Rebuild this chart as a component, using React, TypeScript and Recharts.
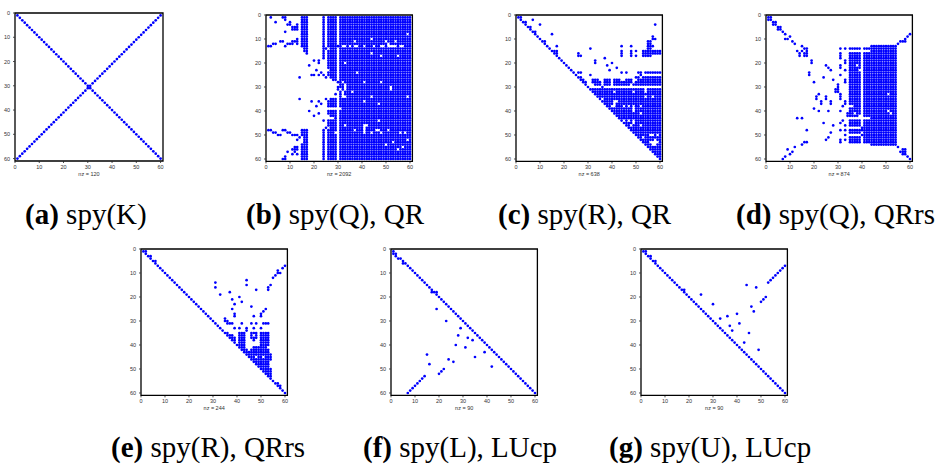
import { ScatterChart, Scatter, XAxis, YAxis, ReferenceArea } from "recharts"

// every row lists the occupied columns of that matrix row (row 1 first)
const spyK = [
  "1,60", "2,59", "3,58", "4,57", "5,56", "6,55", "7,54", "8,53", "9,52", "10,51",
  "11,50", "12,49", "13,48", "14,47", "15,46", "16,45", "17,44", "18,43", "19,42", "20,41",
  "21,40", "22,39", "23,38", "24,37", "25,36", "26,35", "27,34", "28,33", "29,32", "30,31",
  "30,31", "29,32", "28,33", "27,34", "26,35", "25,36", "24,37", "23,38", "22,39", "21,40",
  "20,41", "19,42", "18,43", "17,44", "16,45", "15,46", "14,47", "13,48", "12,49", "11,50",
  "10,51", "9,52", "8,53", "7,54", "6,55", "5,56", "4,57", "3,58", "2,59", "1,60",
]

const spyQR_Q = [
  "2,7,8,15-17,24,26-29,31-60",
  "8,15-17,24,26-29,31-60",
  "4,10,15-17,24,26-29,31-60",
  "9,10,13,15-17,24,26-29,31-60",
  "11-13,15-17,24,26-29,31-60",
  "11-13,15-17,24,26-29,31-60",
  "8,15-17,24,26-29,31-60",
  "15-17,24,26-29,31-60",
  "15-17,24,26-29,31-60",
  "13,15-17,24,26-29,31-60",
  "6,7,11-13,15-17,24,26-29,31-60",
  "3,4,9-11,13,15-17,24,26-29,31-60",
  "1,2,8,15-17,24,26-31,33-60",
  "16,17,24,25,27-29,31-60",
  "16,17,24,26-29,31-60",
  "17,24,26-29,31-60",
  "24,26-29,31-60",
  "24,26-29,31-60",
  "20,22,26-29,31-60",
  "22,26-29,31-60",
  "18,26-29,31-60",
  "26-29,31-60",
  "21,27-29,31-60",
  "23,26-29,31-60",
  "19,20,22,24,26-29,31-60",
  "14,25,27-29,31-60",
  "28,29,31-60",
  "30,31,33-60",
  "31,32,34-60",
  "30,31,32,34-60",
  "30,32,34-60",
  "31,33-60",
  "29,31,33-60",
  "31,34-60",
  "14,25,27-29,31-60",
  "19,22,26-29,31-60",
  "23,26-29,31-60",
  "21,26-29,31-60",
  "32-60",
  "18,26-29,31-60",
  "22,26-29,31-60",
  "20,27-29,31-60",
  "29,31-60",
  "24,26-29,31-60",
  "26-29,31-60",
  "26-29,31-60",
  "25,27-29,31-60",
  "1,2,7,8,15-17,24,26-29,31-60",
  "3,4,9,10,15-17,24,26-28,31-60",
  "5,6,11-13,15-17,24,26-29,31-60",
  "14,16,17,24,26-29,31-60",
  "13,16,17,24,26-29,31-60",
  "16,17,24,26-29,31-60",
  "15-17,24,26-29,31-60",
  "12,13,15-17,24,26-29,31-60",
  "11-13,15-17,24,26-29,31-60",
  "9,12,15-17,24,26-29,31-60",
  "11,13,15-17,24,26-29,31-60",
  "8,15-17,24,26-29,31-60",
  "7,8,15-17,24,26-29,31-60",
]
const spyQR_QHoles = [
  [59, 8], [44, 10], [37, 11], [50, 11], [54, 11], [51, 12], [33, 13], [35, 13], [37, 13], [38, 13],
  [41, 13], [45, 13], [48, 13], [49, 13], [51, 13], [52, 13], [53, 13], [54, 13], [56, 13], [57, 13],
  [44, 16], [48, 17], [55, 17], [33, 20], [38, 24], [41, 28], [48, 28], [52, 30], [52, 31], [36, 32],
  [44, 34], [59, 34], [41, 36], [47, 37], [47, 44], [33, 46], [41, 46], [42, 46], [41, 47], [37, 48],
  [41, 48], [46, 48], [47, 48], [51, 48], [41, 49], [44, 49], [48, 49], [56, 49], [58, 49], [59, 52],
  [53, 53], [50, 54], [57, 55], [55, 56],
]

const spyQR_R = [
  "1,2", "2,7", "3,4", "4,10,58", "5,6", "6", "7,8", "8,15", "9,57", "10,57,58",
  "11,12,55,56", "12,55,56", "13,17,44,48,55-57", "14,31,55,56",
  "15-17,44,48,50,53-60", "16,17,26,44,48,53-60", "17,26,27,44,48,50,53-56", "18,37", "19,33", "20,33,40",
  "21,38", "22,42", "23,39", "24,26,27,44,46,51,52,54-60", "25,31,52",
  "26,27,50,51,53-60", "27,28,32-34,37-39,41-43,46-48,51-60", "28,29,32-35,37-39,41-48,50-60",
  "29,33-35,37-39,41-47,49-60", "30,36",
  "31-60", "32-60", "33-60", "34-60", "35-60", "36-60", "37-60", "38-60", "39-60", "40-60",
  "41-60", "42-60", "43-60", "44-60", "45-60", "46-60", "47-60", "48-60", "49-60", "50-60",
  "51-60", "52-60", "53-60", "54-60", "55-60", "56-60", "57-60", "58-60", "59,60", "60",
]
const spyQR_RHoles = [
  [54, 31], [41, 32], [49, 32], [54, 32], [54, 34], [57, 34], [36, 35], [41, 36], [42, 36], [41, 37],
  [40, 38], [41, 38], [45, 38], [47, 38], [49, 38], [52, 38], [49, 39], [49, 40], [52, 41], [45, 44],
  [47, 44], [49, 44], [49, 45], [48, 46], [52, 46], [56, 50], [57, 50], [59, 50], [53, 51], [58, 52],
  [56, 53], [57, 53], [58, 53], [59, 53], [57, 54], [58, 54],
]

const spyQRrs_Q = [
  "1,2", "1,2", "3,4", "3,4", "5,6", "5,6", "7", "8,60", "10,59", "8,9,58",
  "11,56-58", "12,55", "15,44-54", "16,17,31,33,35-39,41-54",
  "13,15,17,44-54", "14,16,17,31,35-39,41-54", "14,16,17,31,35-39,41-54", "31,35-39,41-54",
  "19,33,35-39,41-54", "19,33,35-39,41-54",
  "25,31,35-37,39,41-54", "26,31,35-39,41-54", "27,33,35-38,41-54", "18,35-39,41-54", "18,31,35-39,41-54",
  "24,35-39,41-54", "28,33,35-39,41-54", "20,33,35-39,41-54", "30,35-39,41-54", "30,35-39,41-54",
  "29,30,35-39,41-54", "29,30,35-39,41-54", "22,31,35-39,41-50,52-54", "21,25,31,35-39,41-54",
  "21,25,31,35-39,41-54", "23,27,33,35-39,41-54", "23,27,33,35-39,41-54", "32,36-39,41-54",
  "20,35-39,41-54", "22,26,31,35-39,41-50,52-54",
  "34-36,38,39,41-51,53,54", "34-38,41-54", "13,15,44-54", "32,35-39,41-54", "24,31,35-39,41-54",
  "28,33,35-39,41-54", "40,41-54", "17,31,33,35-39,40-54", "27,35-39,41-54", "33,40-54",
  "26,35-39,41-54", "25,31,33,35-39,41-54", "16,17,31,35-39,41-54", "15,44-54", "12,55",
  "9,57,58", "11,56-58", "10,57,58", "8,59", "7,60",
]
const spyQRrs_QHoles = [[38, 21], [39, 23], [36, 38], [37, 41], [39, 42]]

const spyQRrs_R = [
  "1,2", "2", "3,4", "4", "5,6", "6", "7,60", "8,59", "9,57", "10,57,58",
  "11,56", "12,55", "13,44", "14,31", "15,44,54", "16,31,53", "17,48,53", "18,37", "19,33", "20,41",
  "21,38", "22,42", "23,39", "24,46", "25,38,52", "26,51", "27,39,50", "28,39,47,50", "29,35", "30,35,36",
  "31,36-38,42,46,48,51-53", "32", "33,39,41,44,47,50", "34,44", "35,36,41-43,46-48,50-53", "36-38,41-43,46,48,50-53",
  "37-39,41-43,46-48,50-53", "38,39,41-43,47,50-53", "39,41-43,50-53", "40-43,50-53",
  "41-43,47-52", "42-44,46-53", "43-53", "44-54", "45-47,49,50,52-54", "46-54", "47-53", "48-53", "49-53", "50-54",
  "51-54", "52-54", "53,54", "54", "55", "56,57", "57,58", "58", "59", "60",
]

const spyLUcp_L = [
  "1", "1,2", "2", "3,4", "5", "5,6", "7", "8", "9", "10",
  "11", "12", "13", "14", "15", "16", "17", "17-19", "19", "20",
  "21", "22", "23", "24", "19,25", "26", "27", "28", "29", "23,30",
  "31", "32", "29,33", "34", "35", "28,36", "32,37", "34,38", "39", "27,40",
  "31,41", "42", "39,43", "15,44", "35,45", "24,46", "26,47", "16,48", "42,49", "22,50",
  "21,51", "20,52", "14,53", "13,54", "12,55", "11,56", "10,57", "9,58", "8,59", "7,60",
]

const spyLUcp_U = [
  "1,2", "2", "3,4", "4", "5,6", "6", "7,60", "8,59", "9,58", "10,57",
  "11,56", "12,55", "13,54", "14,53", "15,44", "16,48", "17,18", "18", "19,25", "20,52",
  "21,51", "22,50", "23,30", "24,46", "25", "26,47", "27,40", "28,36", "29,33", "30",
  "31,41", "32,37", "33", "34,38", "35,45", "36", "37", "38", "39,43", "40",
  "41", "42,49", "43", "44", "45", "46", "47", "48", "49", "50",
  "51", "52", "53", "54", "55", "56", "57", "58", "59", "60",
]

const axisTicks = [0, 10, 20, 30, 40, 50, 60]
const blue = "#0000ff"
const smallText = { fontSize: 5.5, fill: "#333", fontFamily: "Liberation Sans" }

const toPoints = (rows: string[], holes: number[][] = []) =>
  rows.flatMap((row, r) =>
    row.split(",").flatMap((part) => {
      const [a, b] = part.split("-").map(Number)
      const cols: number[] = []
      for (let c = a; c <= (b ?? a); c++) cols.push(c)
      return cols
        .filter((c) => !holes.some(([hc, hr]) => hc === c && hr === r + 1))
        .map((c) => ({ x: c, y: r + 1 }))
    })
  )

const Dot = (props: any) => <circle cx={props.cx} cy={props.cy} r={1.35} fill={blue} />

// matlab style ticks point into the box
const BottomTick = ({ x, y, payload }: any) => (
  <g>
    <line x1={x} x2={x} y1={y} y2={y - 1.5} stroke="#000" strokeWidth={0.7} />
    <text x={x} y={y + 6} textAnchor="middle" {...smallText}>{payload.value}</text>
  </g>
)
const LeftTick = ({ x, y, payload }: any) => (
  <g>
    <line x1={x} x2={x + 1.5} y1={y} y2={y} stroke="#000" strokeWidth={0.7} />
    <text x={x - 3} y={y + 2} textAnchor="end" {...smallText}>{payload.value}</text>
  </g>
)
const TopTick = ({ x, y }: any) => <line x1={x} x2={x} y1={y} y2={y + 1.5} stroke="#000" strokeWidth={0.7} />
const RightTick = ({ x, y }: any) => <line x1={x} x2={x - 1.5} y1={y} y2={y} stroke="#000" strokeWidth={0.7} />

function Spy({ rows, holes, nz, x, y, size }: { rows: string[]; holes?: number[][]; nz: number; x: number; y: number; size: number }) {
  const left = 20
  const top = 5
  return (
    <div style={{ position: "absolute", left: x - left, top: y - top }}>
      <ScatterChart width={size + left + 5} height={size + top + 20} margin={{ top, right: 5, left: 0, bottom: 0 }}>
        <XAxis xAxisId="b" dataKey="x" type="number" domain={[0, 61]} ticks={axisTicks} height={20} tick={BottomTick}
          axisLine={false} tickLine={false} tickSize={0} interval={0}
          label={{ value: `nz = ${nz}`, position: "insideBottom", offset: 5, ...smallText }} />
        <XAxis xAxisId="t" orientation="top" type="number" domain={[0, 61]} ticks={axisTicks} height={0} tick={TopTick}
          axisLine={false} tickLine={false} tickSize={0} interval={0} />
        <YAxis yAxisId="l" dataKey="y" type="number" domain={[0, 61]} reversed ticks={axisTicks} width={left} tick={LeftTick}
          axisLine={false} tickLine={false} tickSize={0} interval={0} />
        <YAxis yAxisId="r" orientation="right" type="number" domain={[0, 61]} reversed ticks={axisTicks} width={0} tick={RightTick}
          axisLine={false} tickLine={false} tickSize={0} interval={0} />
        <ReferenceArea xAxisId="b" yAxisId="l" x1={0} x2={61} y1={0} y2={61} fill="none" stroke="#000" strokeWidth={1.3} ifOverflow="visible" />
        <Scatter xAxisId="b" yAxisId="l" data={toPoints(rows, holes)} shape={Dot} isAnimationActive={false} />
      </ScatterChart>
    </div>
  )
}

function Caption({ tag, text, x, y }: { tag: string; text: string; x: number; y: number }) {
  return (
    <div style={{ position: "absolute", left: x, top: y, fontFamily: "Liberation Serif", fontSize: 29, lineHeight: "26px", whiteSpace: "nowrap", color: "#000" }}>
      <b>({tag})</b> {text}
    </div>
  )
}

export default function App() {
  return (
    <div style={{ position: "absolute", left: 0, top: 0, width: 935, height: 464, background: "#fff", overflow: "hidden" }}>
      <Spy rows={spyK} nz={120} x={15} y={13} size={148} />
      <Spy rows={spyQR_Q} holes={spyQR_QHoles} nz={2092} x={266} y={15} size={146.4} />
      <Spy rows={spyQR_R} holes={spyQR_RHoles} nz={638} x={516} y={15} size={146.4} />
      <Spy rows={spyQRrs_Q} holes={spyQRrs_QHoles} nz={874} x={766} y={15} size={146.4} />
      <Spy rows={spyQRrs_R} nz={244} x={141} y={249} size={146.4} />
      <Spy rows={spyLUcp_L} nz={90} x={391} y={249} size={146.4} />
      <Spy rows={spyLUcp_U} nz={90} x={641} y={249} size={146.4} />
      <Caption tag="a" text="spy(K)" x={25} y={201} />
      <Caption tag="b" text="spy(Q), QR" x={246} y={201} />
      <Caption tag="c" text="spy(R), QR" x={498} y={201} />
      <Caption tag="d" text="spy(Q), QRrs" x={736} y={201} />
      <Caption tag="e" text="spy(R), QRrs" x={111} y={434} />
      <Caption tag="f" text="spy(L), LUcp" x={363} y={434} />
      <Caption tag="g" text="spy(U), LUcp" x={609} y={434} />
    </div>
  )
}
